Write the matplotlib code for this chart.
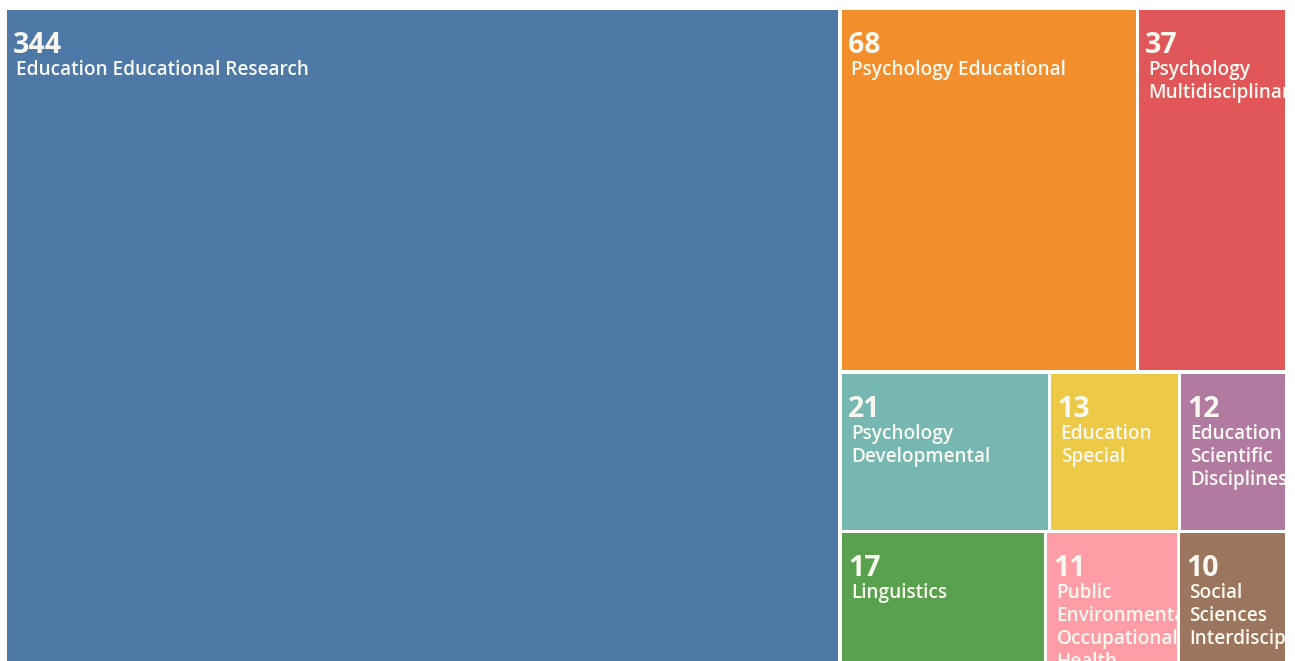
import matplotlib.pyplot as plt
from matplotlib.patches import Rectangle
from matplotlib.transforms import Bbox, TransformedBbox

#web of science categories, record counts
names = ['Education Educational Research', 'Psychology Educational', 'Psychology\nMultidisciplinary',
         'Psychology\nDevelopmental', 'Education\nSpecial', 'Education\nScientific\nDisciplines',
         'Linguistics', 'Public\nEnvironmental\nOccupational\nHealth', 'Social\nSciences\nInterdisciplinary']
counts = [344, 68, 37, 21, 13, 12, 17, 11, 10]
colours = ['#4e79a7', '#f28e2b', '#e15759', '#76b7b2', '#edc948', '#b07aa1', '#59a14f', '#ff9da7', '#9c755f']
rows = [[1, 2], [3, 4, 5], [6, 7, 8]]  #index of cells in each row of the right column

fig = plt.figure(figsize=(12.95, 6.61), dpi=100)
ax = fig.add_axes([0, 0, 1, 1])
ax.set_xlim(0, 1295)
ax.set_ylim(661, 0)
ax.axis('off')

#treemap box (goes a bit past the screenshot edge), and the visible part
x0, y0, x1, y1 = 5, 8, 1299, 663
clip = Rectangle((5, 8), 1280, 653, transform=ax.transData)
gap = 1.7

total = sum(counts)
wbig = counts[0] / total * (x1 - x0)
cells = [(x0, y0, wbig, y1 - y0)]
rest = sum(counts[1:])
yy = y0
for r in rows:
    rsum = sum(counts[i] for i in r)
    h = rsum / rest * (y1 - y0)
    xx = x0 + wbig
    for i in r:
        w = counts[i] / rsum * (x1 - x0 - wbig)
        cells.append((xx, yy, w, h))
        xx += w
    yy += h

order = [0] + [i for r in rows for i in r]
for k, i in enumerate(order):
    x, y, w, h = cells[k]
    p = Rectangle((x + gap, y + gap), w - 2 * gap, h - 2 * gap, facecolor=colours[i], edgecolor='none')
    ax.add_patch(p)
    p.set_clip_path(clip)
    #text gets cut at the cell edge (and at the screenshot edge)
    right = min(x + w - gap, 1285)
    box = TransformedBbox(Bbox([[x + gap, y + gap], [right, min(y + h - gap, 661)]]), ax.transData)
    t = ax.text(x + 8, y + 45, str(counts[i]), color='#f8f8f0', fontsize=20.5, fontweight='bold',
                family='Open Sans', va='baseline', ha='left')
    t.set_clip_on(True)
    t.set_clip_box(box)
    t.set_clip_path(None)
    for j, line in enumerate(names[i].split('\n')):
        t = ax.text(x + 11, y + 67 + 23 * j, line, color='#f8f8f0', fontsize=13.7, fontweight='semibold',
                    family='Open Sans', va='baseline', ha='left')
        t.set_clip_on(True)
        t.set_clip_box(box)
        t.set_clip_path(None)

fig.savefig('out.png', dpi=100, facecolor='white')
